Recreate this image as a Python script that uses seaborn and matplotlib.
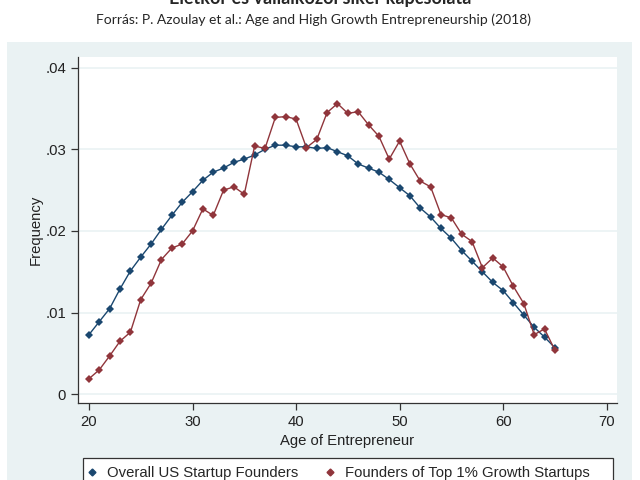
import pandas as pd
import seaborn as sns
import matplotlib.pyplot as plt
from matplotlib.lines import Line2D
from matplotlib.patches import Rectangle

# Data
ages = list(range(20, 66))
overall = [0.0073, 0.0089, 0.0105, 0.0129, 0.0151, 0.0168, 0.0184, 0.0202, 0.0219, 0.0235,
           0.0248, 0.0262, 0.0272, 0.0277, 0.0284, 0.0288, 0.0293, 0.0300, 0.0305, 0.0305,
           0.0303, 0.0303, 0.0301, 0.0302, 0.0297, 0.0292, 0.0282, 0.0277, 0.0272, 0.0263,
           0.0253, 0.0243, 0.0228, 0.0217, 0.0203, 0.0191, 0.0176, 0.0163, 0.0150, 0.0137,
           0.0127, 0.0112, 0.0097, 0.0082, 0.0070, 0.0057]
top1 = [0.0019, 0.0030, 0.0047, 0.0065, 0.0076, 0.0116, 0.0136, 0.0165, 0.0179, 0.0184,
        0.0200, 0.0227, 0.0219, 0.0250, 0.0254, 0.0245, 0.0304, 0.0301, 0.0339, 0.0340,
        0.0337, 0.0302, 0.0312, 0.0345, 0.0356, 0.0344, 0.0346, 0.0330, 0.0316, 0.0288,
        0.0310, 0.0282, 0.0261, 0.0254, 0.0220, 0.0216, 0.0196, 0.0187, 0.0155, 0.0167,
        0.0156, 0.0132, 0.0111, 0.0073, 0.0080, 0.0054]
series_names = ["Overall US Startup Founders", "Founders of Top 1% Growth Startups"]
y_ticks = [0, 0.01, 0.02, 0.03, 0.04]
y_tick_labels = ["0", ".01", ".02", ".03", ".04"]
x_ticks = [20, 30, 40, 50, 60, 70]

title = "Életkor és vállalkozói siker kapcsolata"
subtitle = "Forrás: P. Azoulay et al.: Age and High Growth Entrepreneurship (2018)"

navy = "#1A476F"
maroon = "#90353B"
panel = "#EAF2F3"
fs = 10.7

df = pd.DataFrame({
    "age": ages * 2,
    "freq": overall + top1,
    "series": [series_names[0]] * len(ages) + [series_names[1]] * len(ages),
})

sns.set_style("white")
plt.rcParams["font.family"] = ["Liberation Sans", "DejaVu Sans"]

fig = plt.figure(figsize=(6.4, 4.8), dpi=100)
fig.patch.set_facecolor("white")

# light stata-like graph region
fig.add_artist(Rectangle((7 / 640, 0), 625 / 640, 438 / 480, transform=fig.transFigure,
                         facecolor=panel, edgecolor="none", zorder=0))

ax = fig.add_axes([78 / 640, 77 / 480, 539 / 640, 346 / 480])
ax.set_facecolor("white")

sns.lineplot(data=df, x="age", y="freq", hue="series",
             palette={series_names[0]: navy, series_names[1]: maroon},
             marker="D", markersize=4.2, markeredgewidth=0, linewidth=1.0,
             legend=False, ax=ax)

ax.set_xlim(18.94, 71.0)
ax.set_ylim(-0.00107, 0.0413)
ax.set_yticks(y_ticks)
ax.set_yticklabels(y_tick_labels)
ax.set_xticks(x_ticks)
ax.yaxis.grid(True, color=panel, linewidth=1.2)
ax.set_axisbelow(True)

for side in ["top", "right"]:
    ax.spines[side].set_visible(False)
for side in ["left", "bottom"]:
    ax.spines[side].set_color("#333333")
    ax.spines[side].set_linewidth(0.9)

ax.tick_params(axis="both", direction="out", length=5, width=0.9, color="#333333",
               labelsize=fs, labelcolor="#222222", left=True, bottom=True)
ax.set_xlabel("Age of Entrepreneur", fontsize=fs, color="#222222", labelpad=4)
ax.set_ylabel("Frequency", fontsize=fs, color="#222222", labelpad=2)

# legend box (runs off the bottom edge like in the reference)
fig.add_artist(Rectangle((83 / 640, -0.05), 530 / 640, 22 / 480 + 0.05,
                         transform=fig.transFigure, facecolor="white",
                         edgecolor="#333333", linewidth=0.9, zorder=1))

handles = [Line2D([], [], marker="D", linestyle="none", color=c, markersize=3.5)
           for c in [navy, maroon]]
leg = fig.legend(handles, series_names, loc="upper left", ncol=2,
                 bbox_to_anchor=(83 / 640, 18 / 480), borderaxespad=0,
                 fontsize=fs, frameon=False, handletextpad=0.7,
                 borderpad=0.3, handlelength=0.6, columnspacing=1.85)
leg.set_zorder(2)

fig.text(0.5, 1 - 4 / 480, title, ha="center", va="baseline", fontsize=13,
         fontweight="bold", family=["Lato", "DejaVu Sans"])
fig.text(0.49, 1 - 20 / 480, subtitle, ha="center", va="center", fontsize=10,
         family=["Lato", "DejaVu Sans"])

fig.savefig("out.png", dpi=100)
